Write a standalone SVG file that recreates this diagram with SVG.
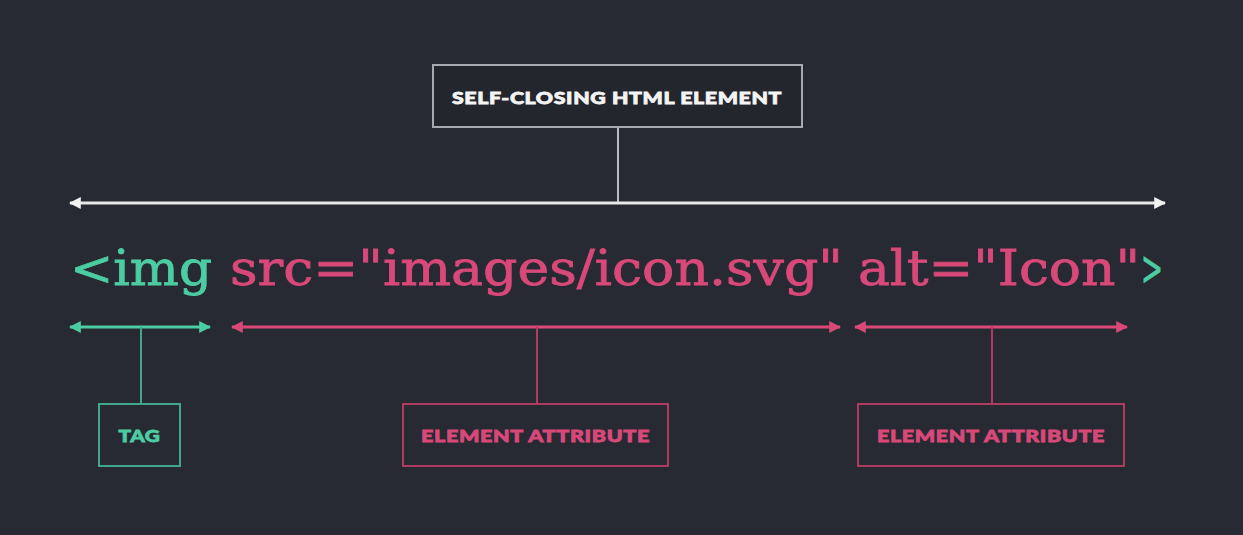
<svg xmlns="http://www.w3.org/2000/svg" width="1243" height="535" viewBox="0 0 1243 535">
<style>
.lbl{font-family:Lato,"DejaVu Sans",sans-serif;font-weight:900;font-size:17px;text-anchor:middle;letter-spacing:0.5px;stroke-width:0.8px}
.code{font-family:"DejaVu Serif","Liberation Serif",serif;font-size:48px;stroke-width:0.8px}
.teal{fill:#4ccca2;stroke:#4ccca2}
.pink{fill:#d8497a;stroke:#d8497a}
</style>
<defs>
<marker id="aw" viewBox="0 0 10 10" refX="9" refY="5" markerWidth="12" markerHeight="12" markerUnits="userSpaceOnUse" orient="auto-start-reverse"><path d="M0,0 L10,5 L0,10 Z" fill="#f2f2f2"/></marker>
<marker id="at" viewBox="0 0 10 10" refX="9" refY="5" markerWidth="12" markerHeight="12" markerUnits="userSpaceOnUse" orient="auto-start-reverse"><path d="M0,0 L10,5 L0,10 Z" fill="#4ccca2"/></marker>
<marker id="ap" viewBox="0 0 10 10" refX="9" refY="5" markerWidth="12" markerHeight="12" markerUnits="userSpaceOnUse" orient="auto-start-reverse"><path d="M0,0 L10,5 L0,10 Z" fill="#d8497a"/></marker>
</defs>
<rect width="1243" height="535" fill="#282a33"/>
<g id="connectors" fill="none">
<line x1="618" y1="127" x2="618" y2="203" stroke="#b9bbc0" stroke-width="2"/>
<line x1="70" y1="203" x2="1165" y2="203" stroke="#e8e8e8" stroke-width="3" marker-start="url(#aw)" marker-end="url(#aw)"/>
<line x1="70" y1="327" x2="210" y2="327" stroke="#4ccca2" stroke-width="3" marker-start="url(#at)" marker-end="url(#at)"/>
<line x1="141" y1="327" x2="141" y2="404" stroke="#3fa88a" stroke-width="2"/>
<line x1="232" y1="327" x2="840" y2="327" stroke="#d8497a" stroke-width="3" marker-start="url(#ap)" marker-end="url(#ap)"/>
<line x1="537" y1="327" x2="537" y2="404" stroke="#b03b60" stroke-width="2"/>
<line x1="855" y1="327" x2="1127" y2="327" stroke="#d8497a" stroke-width="3" marker-start="url(#ap)" marker-end="url(#ap)"/>
<line x1="992" y1="327" x2="992" y2="404" stroke="#b03b60" stroke-width="2"/>
</g>
<g id="code">
<text class="code teal" x="70" y="285" textLength="142" lengthAdjust="spacingAndGlyphs">&lt;img</text>
<text class="code pink" x="230" y="285" textLength="613" lengthAdjust="spacingAndGlyphs">src="images/icon.svg"</text>
<text class="code pink" x="858" y="285" textLength="282" lengthAdjust="spacingAndGlyphs">alt="Icon"</text>
<text class="code teal" x="1141" y="285" textLength="22" lengthAdjust="spacingAndGlyphs">&gt;</text>
</g>
<g id="node-self-closing">
<rect x="433" y="65" width="369" height="62" fill="#24262d" stroke="#a7a9ae" stroke-width="2"/>
<text class="lbl" x="617" y="104" fill="#f4f4f4" stroke="#f4f4f4" textLength="330" lengthAdjust="spacingAndGlyphs">SELF-CLOSING HTML ELEMENT</text>
</g>
<g id="node-tag">
<rect x="99" y="404" width="81" height="62" fill="none" stroke="#3fa88a" stroke-width="2"/>
<text class="lbl teal" x="139.5" y="442" textLength="42" lengthAdjust="spacingAndGlyphs">TAG</text>
</g>
<g id="node-attr1">
<rect x="403" y="404" width="265" height="62" fill="none" stroke="#b03b60" stroke-width="2"/>
<text class="lbl pink" x="535.5" y="442" textLength="229" lengthAdjust="spacingAndGlyphs">ELEMENT ATTRIBUTE</text>
</g>
<g id="node-attr2">
<rect x="858" y="404" width="266" height="62" fill="none" stroke="#b03b60" stroke-width="2"/>
<text class="lbl pink" x="991" y="442" textLength="228" lengthAdjust="spacingAndGlyphs">ELEMENT ATTRIBUTE</text>
</g>
</svg>
